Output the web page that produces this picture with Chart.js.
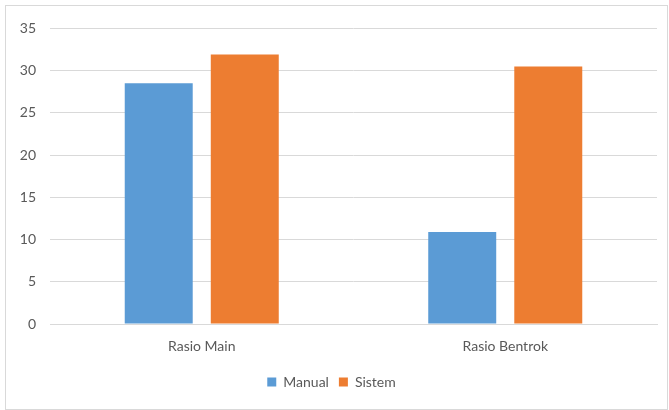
<!DOCTYPE html>
<html>
<head>
<meta charset="utf-8">
<script src="https://cdn.jsdelivr.net/npm/chart.js@4"></script>
<style>
    body { margin: 0; background: #fff; }
    #box {
        position: absolute; left: 5px; top: 5px;
        width: 661px; height: 403px;
        border: 1px solid #d9d9d9;
    }
</style>
</head>
<body>
<div id="box"><canvas id="chart"></canvas></div>
<script>
const categories = ['Rasio Main', 'Rasio Bentrok'];
const manualValues = [28.5, 10.9];
const sistemValues = [31.9, 30.5];
const yTicks = [0, 5, 10, 15, 20, 25, 30, 35];

const textColor = '#595959';
const gridColor = '#d9d9d9';
const font = { family: 'Lato', size: 14 };

const ctx = document.getElementById('chart').getContext('2d');

new Chart(ctx, {
    type: 'bar',
    data: {
        labels: categories,
        datasets: [{
            label: 'Manual',
            data: manualValues,
            backgroundColor: '#5b9bd5',
            categoryPercentage: 0.567,
            barPercentage: 0.79
        }, {
            label: 'Sistem',
            data: sistemValues,
            backgroundColor: '#ed7d31',
            categoryPercentage: 0.567,
            barPercentage: 0.79
        }]
    },
    options: {
        responsive: true,
        maintainAspectRatio: false,
        animation: false,
        layout: { padding: { top: 14, right: 10, bottom: 10, left: 0 } },
        scales: {
            x: {
                grid: { display: false, drawTicks: false },
                border: { color: gridColor },
                ticks: { color: textColor, font: font, padding: 14 },
                afterFit: (scale) => { scale.height = 41; }
            },
            y: {
                min: 0,
                max: 35,
                afterBuildTicks: (scale) => { scale.ticks = yTicks.map(v => ({ value: v })); },
                grid: { color: gridColor, drawTicks: false },
                border: { display: false },
                ticks: { color: textColor, font: font, padding: 14 },
                afterFit: (scale) => { scale.width = 44; }
            }
        },
        plugins: {
            legend: {
                position: 'bottom',
                labels: {
                    color: textColor,
                    font: font,
                    boxWidth: 9,
                    boxHeight: 9,
                    padding: 10
                }
            },
            tooltip: { enabled: false }
        }
    }
});
</script>
</body>
</html>
